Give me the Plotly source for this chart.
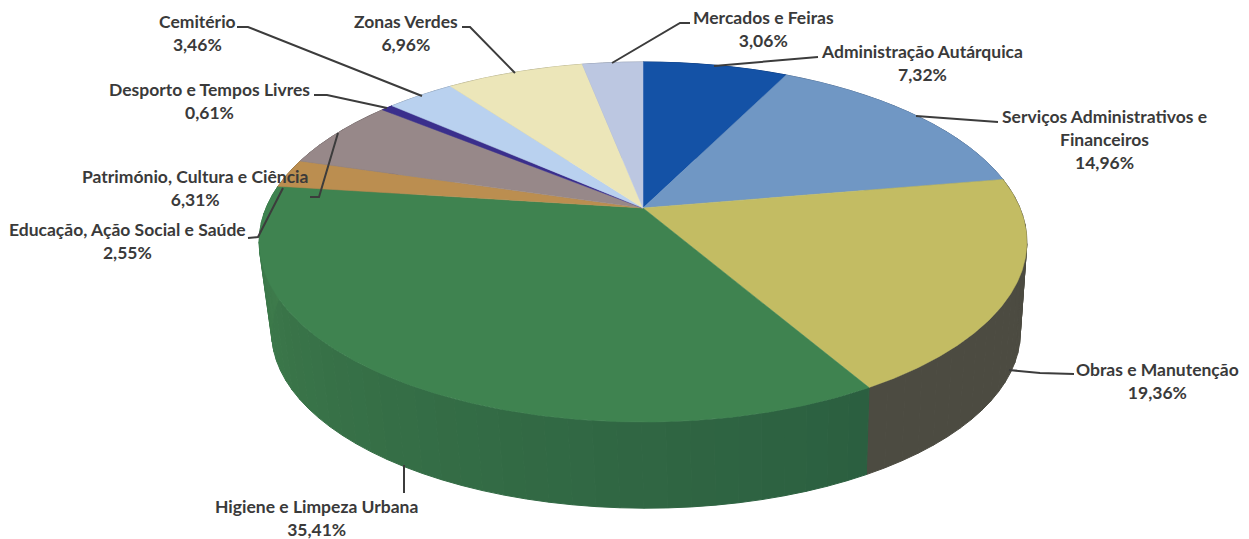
import numpy as np
import plotly.graph_objects as go

# ---- data -------------------------------------------------------------
categories = ["Administração Autárquica", "Serviços Administrativos e<br>Financeiros",
              "Obras e Manutenção", "Higiene e Limpeza Urbana",
              "Educação, Ação Social e Saúde", "Património, Cultura e Ciência",
              "Desporto e Tempos Livres", "Cemitério", "Zonas Verdes", "Mercados e Feiras"]
values = [7.32, 14.96, 19.36, 35.41, 2.55, 6.31, 0.61, 3.46, 6.96, 3.06]

# ---- style ------------------------------------------------------------
top_colors = ["#1452a6", "#7097c4", "#c3bc63", "#3f8350", "#bb8e50",
              "#978889", "#3a2f8c", "#b9d1ef", "#ece6b9", "#bcc7e1"]
side_light = ["#0e3a78", "#4f6c8e", "#4c4b41", "#3f7d4c", "#85653a",
              "#6b6062", "#2a2165", "#8496ab", "#a8a484", "#8690a1"]
side_dark = ["#0e3a78", "#4f6c8e", "#4c4b41", "#2b5f40", "#85653a",
             "#6b6062", "#2a2165", "#8496ab", "#a8a484", "#8690a1"]

label_xy = [(922, 63), (1104, 139), (1157, 381), (316, 518), (127, 241),
            (195, 188), (209, 101), (197, 33), (406, 33), (763, 29)]
leaders = ["M818,57 L714,66", "M998,122 L916,116", "M1074,374 L1040,373 L1009,370",
           "M404,493 L404,465", "M248,238 L258,237 L283,188", "M310,197 L319,197 L338,133",
           "M314,95 L327,95 L387,108", "M237,27 L248,27 L422,96",
           "M462,27 L470,27 L515,73", "M690,23 L680,23 L612,63"]

# ---- projection of the tilted disc --------------------------------------
CX, CY, A, B, K = 643.0, 208.0, 377.0, 173.6, 0.189
SCALE_BOTTOM, CX_BOTTOM, CY_BOTTOM = 0.975, 646.0, 299.5


def project(theta, bottom=False):
    u, v = np.sin(theta), np.cos(theta)
    w = 1 + K * v
    x, y = A * u / w, B * v / w
    if bottom:
        return CX_BOTTOM + SCALE_BOTTOM * x, CY_BOTTOM - SCALE_BOTTOM * y
    return CX + x, CY - y


def mix(c1, c2, t):
    a = [int(c1[i:i + 2], 16) for i in (1, 3, 5)]
    b = [int(c2[i:i + 2], 16) for i in (1, 3, 5)]
    return "#" + "".join(f"{round(p + (q - p) * t):02x}" for p, q in zip(a, b))


edges = np.concatenate([[0], np.cumsum(values)]) / sum(values) * 2 * np.pi
fig = go.Figure()

# side wall, drawn first and overlapped by the top face
for i, name in enumerate(categories):
    a0, a1 = edges[i], edges[i + 1]
    n = max(1, int((a1 - a0) / np.radians(3)))
    cuts = np.linspace(a0, a1, n + 1)
    for j in range(n):
        t = np.linspace(cuts[j], cuts[j + 1], 4)
        xt, yt = project(t)
        xb, yb = project(t[::-1], bottom=True)
        f = 1 - (j + 0.5) / n
        col = mix(side_light[i], side_dark[i], f)
        fig.add_trace(go.Scatter(x=np.r_[xt, xb, xt[0]], y=np.r_[yt, yb, yt[0]],
                                 mode="lines", fill="toself", fillcolor=col,
                                 line=dict(color=col, width=1),
                                 hoverinfo="skip", showlegend=False))

# top face
for i, name in enumerate(categories):
    t = np.linspace(edges[i], edges[i + 1], max(3, int(values[i] * 8)))
    x, y = project(t)
    fig.add_trace(go.Scatter(x=np.r_[CX, x, CX], y=np.r_[CY, y, CY],
                             mode="lines", fill="toself", fillcolor=top_colors[i],
                             line=dict(color=top_colors[i], width=0.5),
                             name=name.replace("<br>", " "), showlegend=False,
                             hovertemplate=f"{values[i]:.2f}%<extra></extra>"))

shapes = [dict(type="path", path=p, line=dict(color="#3c3c3c", width=2), layer="above")
          for p in leaders]
annotations = []
for name, v, (lx, ly) in zip(categories, values, label_xy):
    annotations.append(dict(x=lx, y=ly, xref="x", yref="y", showarrow=False,
                            align="center", xanchor="center", yanchor="middle",
                            text=f"<b>{name}<br>{v:.2f}%</b>".replace(".", ","),
                            font=dict(family="Lato", size=17.5, color="#3a3a3a")))

fig.update_layout(width=1249, height=539, margin=dict(l=0, r=0, t=0, b=0),
                  paper_bgcolor="white", plot_bgcolor="white", showlegend=False,
                  shapes=shapes, annotations=annotations,
                  xaxis=dict(range=[0, 1249], visible=False, fixedrange=True),
                  yaxis=dict(range=[539, 0], visible=False, fixedrange=True))
fig.write_html("out.html", config={"displayModeBar": False},
               post_script="document.body.style.margin='0';document.documentElement.style.overflow='hidden';")
